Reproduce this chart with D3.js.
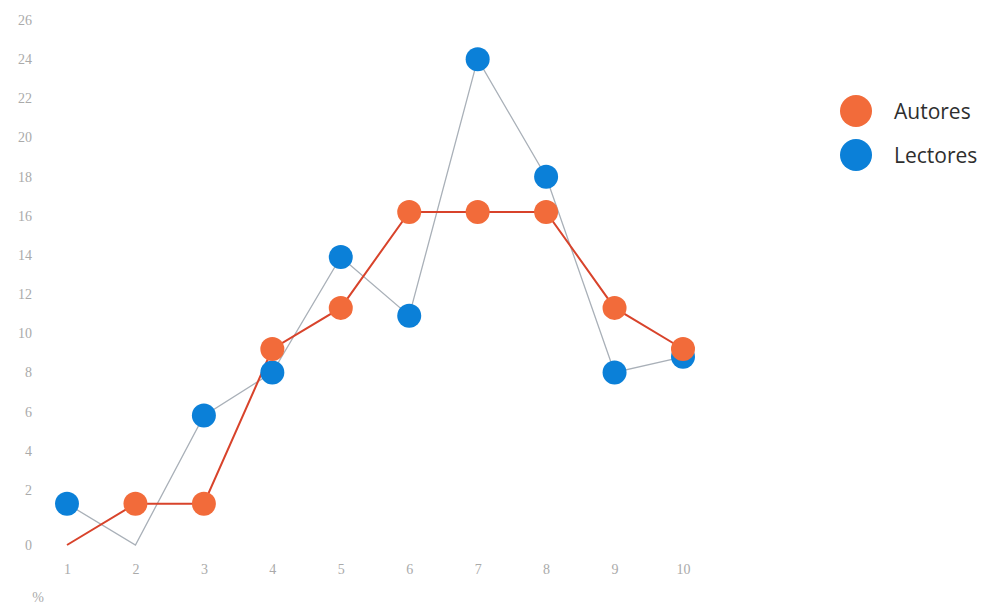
<!DOCTYPE html>
<html>
<head>
<meta charset="utf-8">
<script src="https://cdn.jsdelivr.net/npm/d3@7"></script>
<style>
  html, body { margin: 0; padding: 0; background: #ffffff; }
  svg { display: block; }
  .tick text { font-family: "Liberation Serif", serif; font-size: 14px; fill: #aaaaaa; }
</style>
</head>
<body>
<svg id="chart" width="984" height="605"></svg>
<script>
// Categories along the horizontal axis
const categories = [1, 2, 3, 4, 5, 6, 7, 8, 9, 10];
// Percentages per category
const autores  = [0, 1.5, 1.5, 9.2, 11.3, 16.2, 16.2, 16.2, 11.3, 9.2];
const lectores = [1.5, 0, 5.8, 8, 13.9, 10.9, 24, 18, 8, 8.8];
// Vertical tick labels
const yTicks = [0, 2, 4, 6, 8, 10, 12, 14, 16, 18, 20, 22, 24, 26];
const seriesNames = ["Autores", "Lectores"];

const svg = d3.select("#chart");

const x = d3.scaleLinear().domain([1, 10]).range([67, 683]);
// The value axis gives the first step (0–2) a little more room than the rest
const y = d3.scaleLinear().domain([0, 2, 26]).range([545, 490, 20]);

// Axes: labels only, no lines
const yAxis = svg.append("g")
  .attr("transform", "translate(35,0)")
  .call(d3.axisLeft(y).tickValues(yTicks).tickSize(0).tickPadding(3).tickFormat(d3.format("d")));
yAxis.select(".domain").remove();

const xAxis = svg.append("g")
  .attr("transform", "translate(0,561)")
  .call(d3.axisBottom(x).tickValues(categories).tickSize(0).tickPadding(3).tickFormat(d3.format("d")));
xAxis.select(".domain").remove();

svg.append("text")
  .attr("x", 38).attr("y", 602)
  .attr("text-anchor", "middle")
  .style("font-family", "Liberation Serif, serif")
  .style("font-size", "14px")
  .style("fill", "#aaaaaa")
  .text("%");

const colors = { Autores: "#f26b3a", Lectores: "#0b80d8" };
const lineColors = { Autores: "#d8432b", Lectores: "#a9b0b8" };

const data = {
  Autores: categories.map((c, i) => ({ c, v: autores[i] })),
  Lectores: categories.map((c, i) => ({ c, v: lectores[i] }))
};

const line = d3.line().x(d => x(d.c)).y(d => y(d.v));

// Lines first, then markers on top
svg.append("path")
  .datum(data.Lectores)
  .attr("d", line)
  .attr("fill", "none")
  .attr("stroke", lineColors.Lectores)
  .attr("stroke-width", 1.3);

svg.append("path")
  .datum(data.Autores)
  .attr("d", line)
  .attr("fill", "none")
  .attr("stroke", lineColors.Autores)
  .attr("stroke-width", 2);

["Lectores", "Autores"].forEach(name => {
  svg.append("g")
    .selectAll("circle")
    .data(data[name].filter(d => d.v > 0))
    .join("circle")
    .attr("cx", d => x(d.c))
    .attr("cy", d => y(d.v))
    .attr("r", 12)
    .attr("fill", colors[name]);
});

// Legend
const legend = svg.append("g").attr("transform", "translate(856,111)");
seriesNames.forEach((name, i) => {
  const g = legend.append("g").attr("transform", `translate(0,${i * 44})`);
  g.append("circle").attr("r", 16).attr("fill", colors[name]);
  g.append("text")
    .attr("x", 38).attr("y", 0).attr("dy", "0.36em")
    .style("font-family", "Open Sans, sans-serif")
    .style("font-size", "21px")
    .style("fill", "#2e2e2e")
    .text(name);
});
</script>
</body>
</html>
